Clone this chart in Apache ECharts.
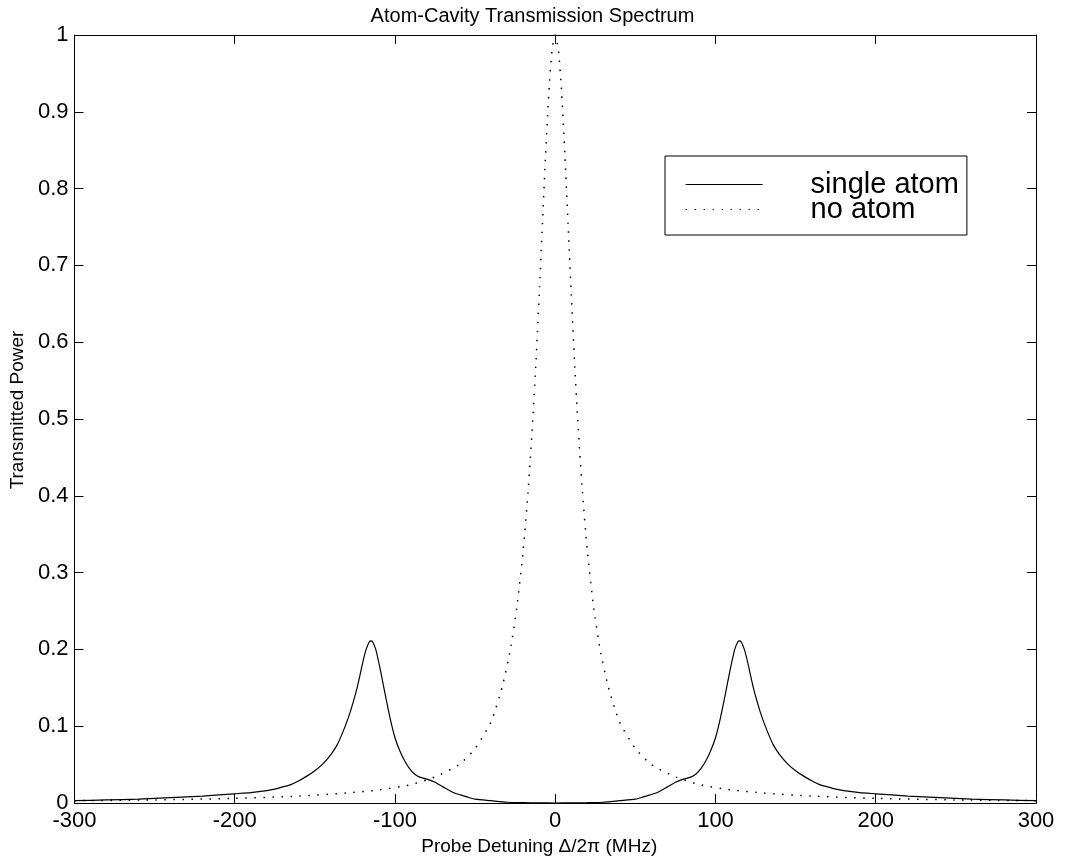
<!DOCTYPE html>
<html>
<head>
<meta charset="utf-8">
<script src="https://cdn.jsdelivr.net/npm/echarts@6/dist/echarts.min.js"></script>
<style>
html,body{margin:0;padding:0;background:#fff;}
#chart{width:1065px;height:865px;}
</style>
</head>
<body>
<div id="chart"></div>
<script>
// ---- data ----
const xTicks = [-300, -200, -100, 0, 100, 200, 300];
const yTicks = [0, 0.1, 0.2, 0.3, 0.4, 0.5, 0.6, 0.7, 0.8, 0.9, 1];

const singleAtomX = [-300,-280,-260,-240,-220,-200,-190,-180,-175,-170,-165,-160,-155,-150,-145,-140,-136,-133,-130,-128,-126,-124,-122,-120,-118,-116,-115,-114,-112,-109,-106,-103,-100,-97,-94,-91,-88,-85,-80,-75,-70,-65,-60,-55,-50,-40,-30,-20,-10,0,
  10,20,30,40,50,55,60,65,70,75,80,85,88,91,94,97,100,103,106,109,112,114,115,116,118,120,122,124,126,128,130,133,136,140,145,150,155,160,165,170,175,180,190,200,220,240,260,280,300];
const singleAtomY = [0.003,0.004,0.005,0.007,0.009,0.012,0.0135,0.016,0.018,0.021,0.024,0.029,0.035,0.042,0.051,0.063,0.076,0.090,0.106,0.118,0.132,0.147,0.165,0.184,0.200,0.210,0.211,0.210,0.200,0.172,0.140,0.110,0.085,0.068,0.055,0.045,0.038,0.034,0.031,0.027,0.021,0.015,0.011,0.008,0.005,0.003,0.001,0.0005,0.0002,0,
  0.0002,0.0005,0.001,0.003,0.005,0.008,0.011,0.015,0.021,0.027,0.031,0.034,0.038,0.045,0.055,0.068,0.085,0.110,0.140,0.172,0.200,0.210,0.211,0.210,0.200,0.184,0.165,0.147,0.132,0.118,0.106,0.090,0.076,0.063,0.051,0.042,0.035,0.029,0.024,0.021,0.018,0.016,0.0135,0.012,0.009,0.007,0.005,0.004,0.003];

const noAtomX = [-300,-250,-200,-160,-130,-110,-90,-75,-60,-50,-40,-33,-28,-24,-20,-17,-14,-12,-10,-8,-6,-4,-2,0,
  2,4,6,8,10,12,14,17,20,24,28,33,40,50,60,75,90,110,130,160,200,250,300];
const noAtomY = [0.003,0.004,0.006,0.009,0.013,0.017,0.024,0.034,0.050,0.071,0.106,0.152,0.200,0.254,0.329,0.404,0.500,0.576,0.662,0.754,0.845,0.925,0.980,1.000,
  0.980,0.925,0.845,0.754,0.662,0.576,0.500,0.404,0.329,0.254,0.200,0.152,0.106,0.071,0.050,0.034,0.024,0.017,0.013,0.009,0.006,0.004,0.003];

const seriesNames = ['single atom', 'no atom'];
const titleText = 'Atom-Cavity Transmission Spectrum';
const xName = 'Probe Detuning \u0394/2\u03c0 (MHz)';
const yName = 'Transmitted Power';

// ---- chart ----
const FONT = "'Liberation Sans', Arial, Helvetica, sans-serif";
const zip = (xs, ys) => xs.map((x, i) => [x, ys[i]]);

const chart = echarts.init(document.getElementById('chart'), null, {renderer: 'canvas'});

const axisCommon = {
  axisLine: {show: true, onZero: false, lineStyle: {color: '#000', width: 1}},
  axisTick: {show: true, inside: true, length: 9, lineStyle: {color: '#000', width: 1}},
  splitLine: {show: false}
};

chart.setOption({
  backgroundColor: '#fff',
  animation: false,
  title: {
    text: titleText,
    left: 'center',
    top: 1,
    textStyle: {fontFamily: FONT, fontSize: 20, fontWeight: 'normal', color: '#000'}
  },
  grid: {left: 71, right: 29, top: 35, bottom: 62, containLabel: false},
  legend: {
    data: seriesNames,
    orient: 'vertical',
    left: 665,
    top: 156,
    padding: [14, 8, 11, 20],
    itemGap: -4,
    itemWidth: 77,
    itemHeight: 14,
    borderColor: '#000',
    borderWidth: 1,
    backgroundColor: '#fff',
    itemStyle: {opacity: 0},
    lineStyle: {width: 1.2},
    textStyle: {fontFamily: FONT, fontSize: 29, color: '#000', lineHeight: 24, padding: [0, 0, 0, 43]}
  },
  xAxis: [
    Object.assign({}, axisCommon, {
      type: 'value', position: 'bottom', min: xTicks[0], max: xTicks[xTicks.length - 1], interval: 100,
      name: xName, nameLocation: 'middle', nameGap: 32,
      nameTextStyle: {fontFamily: FONT, fontSize: 19, color: '#000', padding: [0, 32, 0, 0]},
      axisLabel: {fontFamily: FONT, fontSize: 22, color: '#000', margin: 7}
    }),
    Object.assign({}, axisCommon, {
      type: 'value', position: 'top', min: xTicks[0], max: xTicks[xTicks.length - 1], interval: 100,
      axisLabel: {show: false}
    })
  ],
  yAxis: [
    Object.assign({}, axisCommon, {
      type: 'value', position: 'left', min: yTicks[0], max: yTicks[yTicks.length - 1], interval: 0.1,
      name: yName, nameLocation: 'middle', nameGap: 46,
      nameTextStyle: {fontFamily: FONT, fontSize: 19, color: '#000', padding: [0, 0, 0, 18]},
      axisLabel: {fontFamily: FONT, fontSize: 22, color: '#000', margin: 6}
    }),
    Object.assign({}, axisCommon, {
      type: 'value', position: 'right', min: yTicks[0], max: yTicks[yTicks.length - 1], interval: 0.1,
      axisLabel: {show: false}
    })
  ],
  series: [
    {
      name: seriesNames[0],
      type: 'line',
      data: zip(singleAtomX, singleAtomY),
      showSymbol: false,
      symbol: 'none',
      smooth: 0.2,
      lineStyle: {color: '#000', width: 1.2, type: 'solid'},
      itemStyle: {color: '#000'},
      z: 3
    },
    {
      name: seriesNames[1],
      type: 'line',
      data: zip(noAtomX, noAtomY),
      showSymbol: false,
      symbol: 'none',
      smooth: 0.2,
      lineStyle: {color: '#000', width: 1.5, type: [1.5, 7.5]},
      itemStyle: {color: '#000'},
      z: 2
    }
  ]
});
</script>
</body>
</html>
